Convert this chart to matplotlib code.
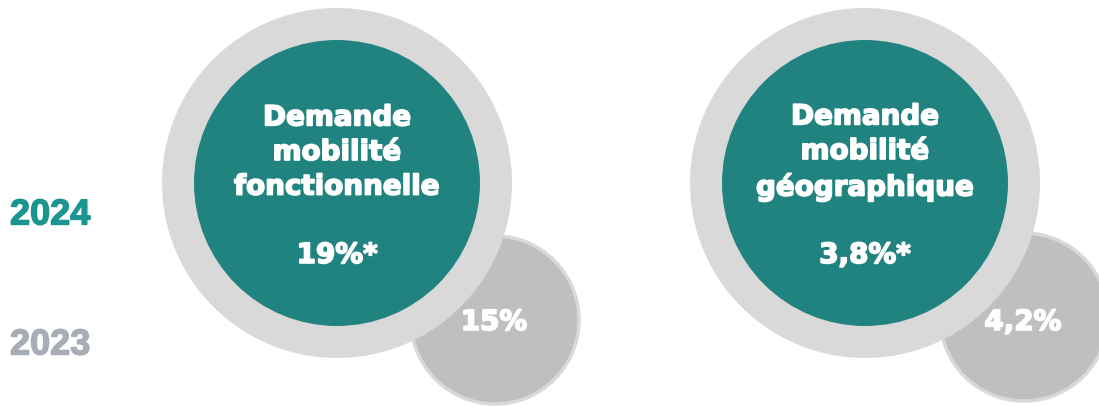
import matplotlib.pyplot as plt
from matplotlib.patches import Circle
import matplotlib.patheffects as pe

# data
categories = ["Demande\nmobilité\nfonctionnelle", "Demande\nmobilité\ngéographique"]
values_2024 = ["19%*", "3,8%*"]
values_2023 = ["15%", "4,2%"]
years = ["2024", "2023"]

teal = "#20837f"
ring = "#d9d9d9"
grey = "#bfbfbf"

fig = plt.figure(figsize=(10.99, 4.07), dpi=100)
ax = fig.add_axes([0, 0, 1, 1])
ax.set_xlim(0, 1099)
ax.set_ylim(407, 0)
ax.set_aspect("equal")
ax.axis("off")

# layout (pixels)
big_x = [337, 865]
big_y = 183
small_x = [495, 1024]
small_y = [320, 317]

heavy = [pe.withStroke(linewidth=1.2, foreground="white")]
txt = dict(ha="center", va="center", color="white", fontsize=20,
           fontweight="bold", family="DejaVu Sans", zorder=4, path_effects=heavy)

for i, cat in enumerate(categories):
    ax.add_patch(Circle((small_x[i], small_y[i]), 84, facecolor=grey,
                        edgecolor=ring, lw=2.5, zorder=1))
    ax.add_patch(Circle((big_x[i], big_y), 175, facecolor=ring, lw=0, zorder=2))
    ax.add_patch(Circle((big_x[i], big_y), 143, facecolor=teal, lw=0, zorder=3))
    ax.text(big_x[i], 152, cat, linespacing=1.3, **txt)
    ax.text(big_x[i], 255, values_2024[i], **txt)
    ax.text(small_x[i] - 1, 322, values_2023[i], **txt)

ax.text(10, 215, years[0], ha="left", va="center", color="#1a9590",
        fontsize=26, fontweight="bold", family="Liberation Sans",
        path_effects=[pe.withStroke(linewidth=1, foreground="#1a9590")])
ax.text(10, 345, years[1], ha="left", va="center", color="#a6adb6",
        fontsize=26, fontweight="bold", family="Liberation Sans",
        path_effects=[pe.withStroke(linewidth=1, foreground="#a6adb6")])

fig.savefig("out.png", dpi=100)
